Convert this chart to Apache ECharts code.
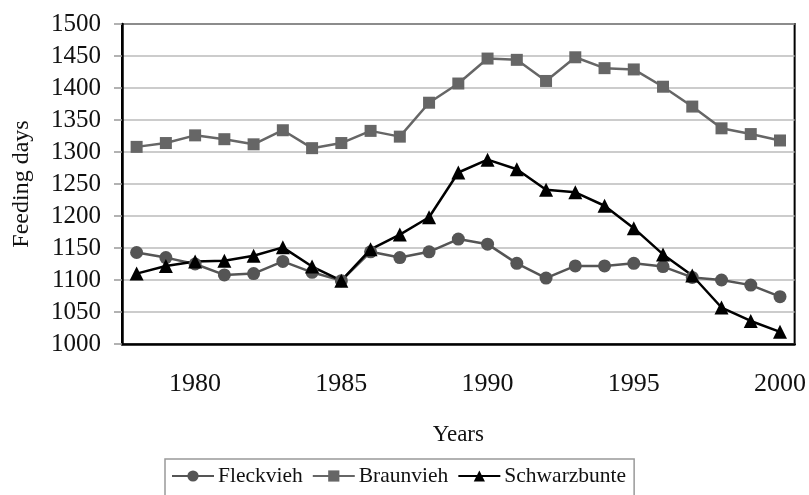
<!DOCTYPE html>
<html>
<head>
<meta charset="utf-8">
<script src="https://cdn.jsdelivr.net/npm/echarts@6/dist/echarts.min.js"></script>
<style>
  html, body { margin: 0; padding: 0; background: #fff; }
  #chart { width: 809px; height: 495px; }
</style>
</head>
<body>
<div id="chart"></div>
<script>
const years = ['1978', '1979', '1980', '1981', '1982', '1983', '1984', '1985', '1986', '1987', '1988', '1989',
  '1990', '1991', '1992', '1993', '1994', '1995', '1996', '1997', '1998', '1999', '2000']

const fleckvieh = [1143, 1135, 1125, 1108, 1110, 1129, 1112, 1099, 1144, 1135, 1144, 1164,
  1156, 1126, 1103, 1122, 1122, 1126, 1121, 1104, 1100, 1092, 1074]

const braunvieh = [1308, 1314, 1326, 1320, 1312, 1334, 1306, 1314, 1333, 1324, 1377, 1407,
  1446, 1444, 1411, 1448, 1431, 1429, 1402, 1371, 1337, 1328, 1318]

const schwarzbunte = [1110, 1122, 1129, 1130, 1138, 1151, 1121, 1099, 1148, 1171, 1198, 1268,
  1288, 1273, 1241, 1237, 1216, 1181, 1140, 1107, 1057, 1036, 1019]

const font = '"Liberation Serif", "Times New Roman", serif'

const chart = echarts.init(document.getElementById('chart'))

// one line series per breed, style differs only by colour and marker
function lineSeries(name, data, symbol, size, color) {
  return {
    name,
    type: 'line',
    data,
    symbol,
    symbolSize: size,
    itemStyle: { color },
    lineStyle: { color, width: 2.5 },
    emphasis: { disabled: true }
  }
}

chart.setOption({
  animation: false,
  grid: {
    left: 122,
    right: 14,
    top: 24,
    bottom: 151,
    show: true,
    borderColor: '#000',
    borderWidth: 2
  },
  legend: {
    left: 165,
    top: 459,
    padding: [6, 8, 30, 6],
    borderColor: '#999',
    borderWidth: 1.5,
    itemWidth: 42,
    itemHeight: 14,
    itemGap: 9,
    textStyle: { fontFamily: font, fontSize: 21.5, color: '#111', padding: [0, 0, 0, -1] },
    data: ['Fleckvieh', 'Braunvieh', 'Schwarzbunte']
  },
  xAxis: {
    type: 'category',
    data: years,
    boundaryGap: true,
    name: 'Years',
    nameLocation: 'middle',
    nameGap: 79,
    nameTextStyle: { fontFamily: font, fontSize: 23, color: '#111' },
    axisLine: { lineStyle: { color: '#000', width: 2.5 } },
    axisTick: { interval: 0, length: 9, lineStyle: { color: '#999', width: 1.5 } },
    axisLabel: {
      interval: (i, v) => Number(v) % 5 === 0,
      margin: 27,
      fontFamily: font,
      fontSize: 26,
      color: '#111'
    }
  },
  yAxis: {
    type: 'value',
    min: 1000,
    max: 1500,
    interval: 50,
    name: 'Feeding days',
    nameLocation: 'middle',
    nameGap: 88,
    nameTextStyle: { fontFamily: font, fontSize: 24, color: '#111' },
    axisLine: { show: true, lineStyle: { color: '#000', width: 2.5 } },
    axisTick: { show: true, length: 8, lineStyle: { color: '#999', width: 1.5 } },
    axisLabel: {
      margin: 21,
      fontFamily: font,
      fontSize: 25,
      color: '#111',
      formatter: v => String(v)
    },
    splitLine: { lineStyle: { color: '#bbb', width: 1.5 } }
  },
  series: [
    lineSeries('Fleckvieh', fleckvieh, 'circle', 13, '#555'),
    lineSeries('Braunvieh', braunvieh, 'rect', 12, '#666'),
    lineSeries('Schwarzbunte', schwarzbunte, 'triangle', 14, '#000')
  ]
})
</script>
</body>
</html>
